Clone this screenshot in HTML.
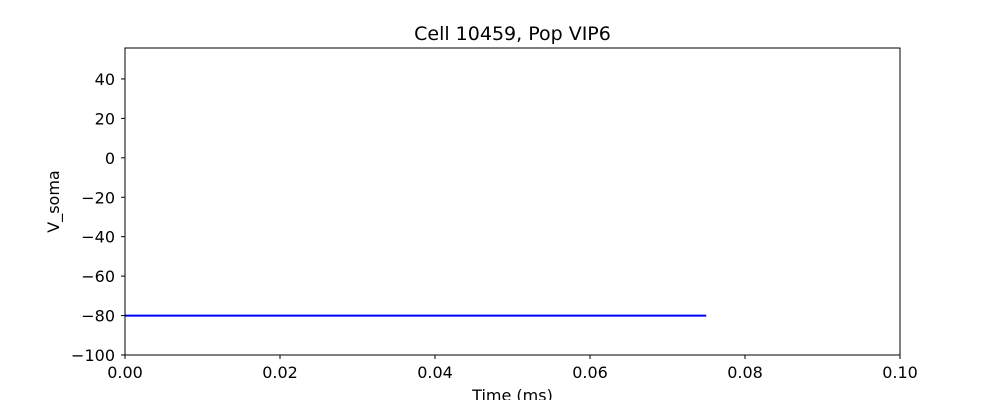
<!DOCTYPE html>
<html><head><meta charset="utf-8"><style>
body{margin:0;background:#fff}
svg text{font-family:"DejaVu Sans","Liberation Sans",sans-serif;fill:#000}
</style></head><body>
<svg width="1000" height="400" xmlns="http://www.w3.org/2000/svg">
<g id="root"></g>
</svg>
<script>
const xTicks=[0,0.02,0.04,0.06,0.08,0.10];
const xTickLabels=["0.00","0.02","0.04","0.06","0.08","0.10"];
const yTicks=[-100,-80,-60,-40,-20,0,20,40];
const yTickLabels=["\u2212100","\u221280","\u221260","\u221240","\u221220","0","20","40"];
const seriesT=[0,0.075];
const seriesV=[-80,-80];
const L=125,R=900,T=48,B=355,xmin=0,xmax=0.1,ymin=-100,ymax=55.7;
const X=v=>L+(v-xmin)/(xmax-xmin)*(R-L);
const Y=v=>B-(v-ymin)/(ymax-ymin)*(B-T);
const NS="http://www.w3.org/2000/svg",root=document.getElementById('root');
function mk(t,a,txt){const e=document.createElementNS(NS,t);for(const k in a)e.setAttribute(k,a[k]);if(txt!=null)e.textContent=txt;root.appendChild(e);return e;}
let ln=mk('polyline',{points:seriesT.map((t,i)=>X(t)+','+Y(seriesV[i])).join(' '),fill:'none',stroke:'#0000ff','stroke-width':2});


let fr=mk('rect',{x:L,y:T,width:R-L,height:B-T,fill:'none',stroke:'#000','stroke-width':1});


xTicks.forEach((v,i)=>{
 let t=mk('line',{x1:X(v),x2:X(v),y1:B,y2:B+4,stroke:'#000'});
 
 
 let l=mk('text',{x:X(v),y:B+23,'text-anchor':'middle','font-size':16},xTickLabels[i]);
 
 
});
yTicks.forEach((v,i)=>{
 let t=mk('line',{x1:L-4,x2:L,y1:Y(v),y2:Y(v),stroke:'#000'});
 
 
 let l=mk('text',{x:L-10,y:Y(v)+6,'text-anchor':'end','font-size':16},yTickLabels[i]);
 
 
});
let ti=mk('text',{x:(L+R)/2,y:40,'text-anchor':'middle','font-size':19},'Cell 10459, Pop VIP6');


let xt=mk('text',{x:(L+R)/2,y:401,'text-anchor':'middle','font-size':16},'Time (ms)');


let yt=mk('text',{x:0,y:0,'text-anchor':'middle','font-size':16,transform:'translate(59,'+((T+B)/2)+') rotate(-90)'},'V_soma');


</script>
</body></html>
